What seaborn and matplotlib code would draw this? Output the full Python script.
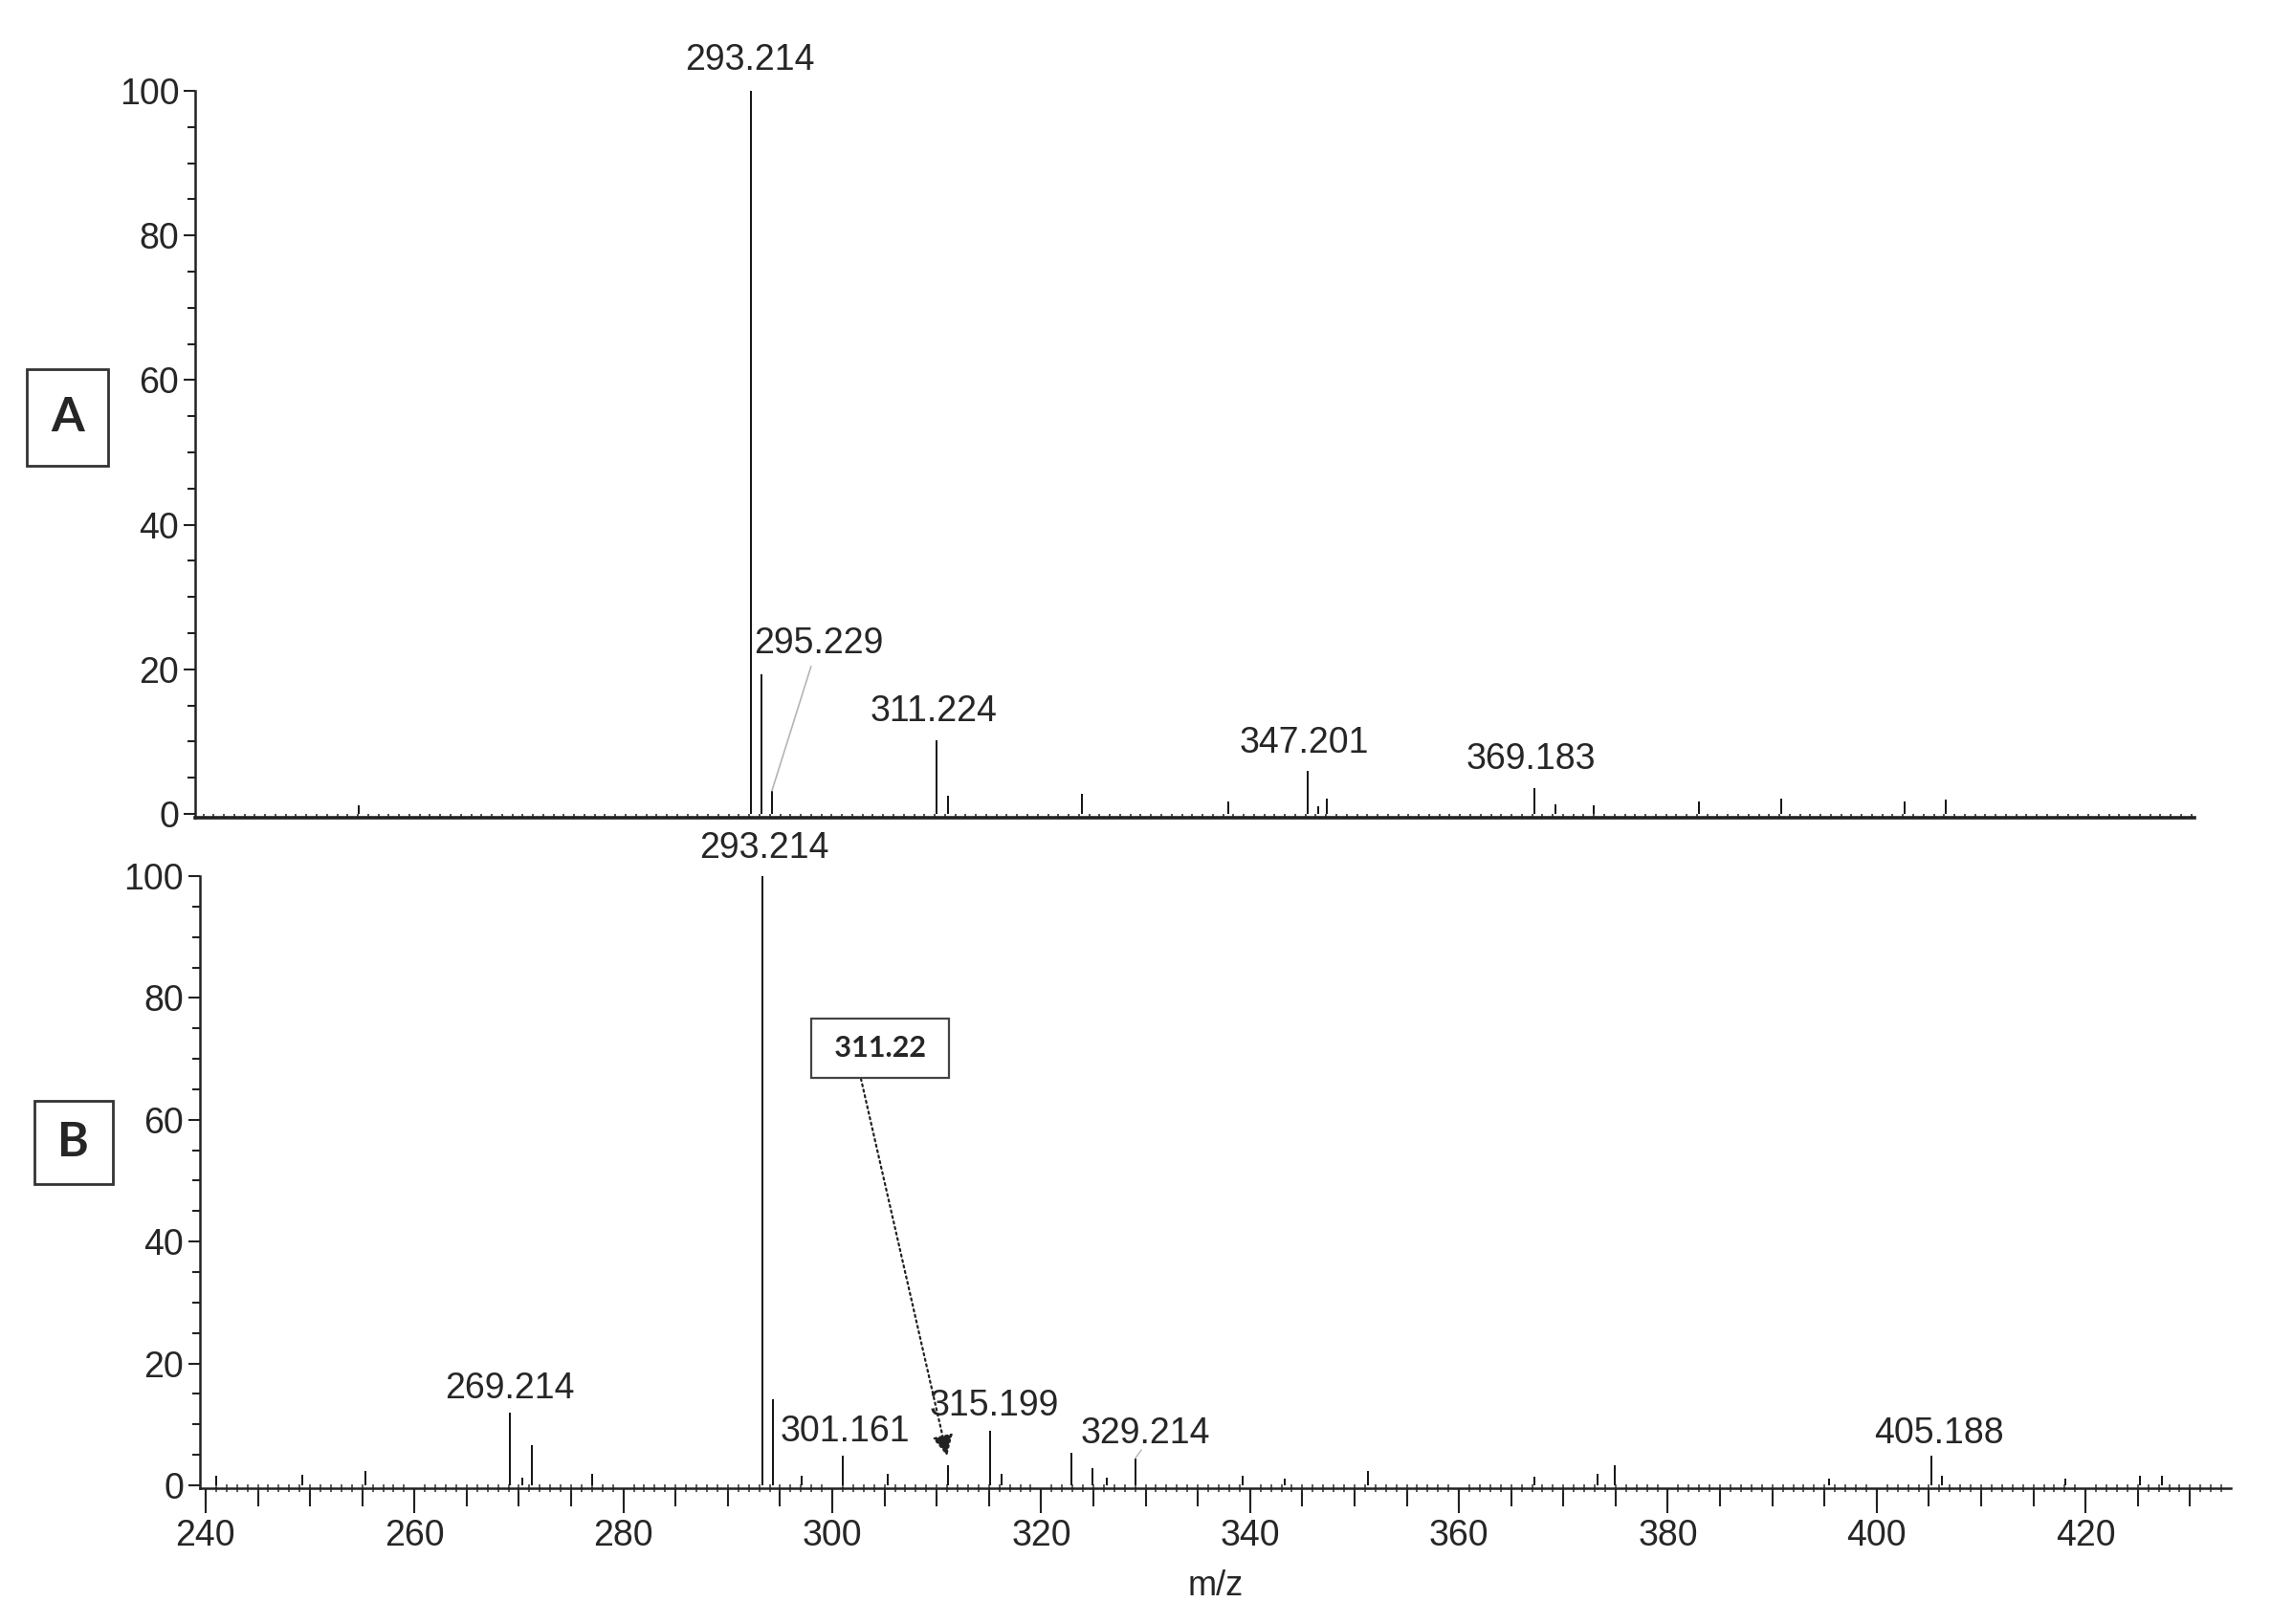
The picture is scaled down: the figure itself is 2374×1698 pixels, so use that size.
import numpy as np
import pandas as pd
import matplotlib
matplotlib.use("Agg")
import matplotlib.pyplot as plt
import seaborn as sns
from matplotlib.ticker import MultipleLocator, NullLocator
from matplotlib.patches import Rectangle

# spectrum A (peaks)
a_mz = [255.1, 293.2, 294.2, 295.2, 311.2, 312.3, 325.3, 339.5, 347.2, 348.2,
        349.1, 369.2, 371.3, 375.0, 385.2, 393.2, 405.2, 409.2]
a_int = [1.2, 100, 19.3, 3.2, 10.2, 2.5, 2.8, 1.7, 6.0, 1.0,
         2.1, 3.6, 1.3, 1.2, 1.7, 2.1, 1.7, 2.0]
a_labels = ["293.214", "295.229", "311.224", "347.201", "369.183"]

# spectrum B
b_mz = [241.0, 249.3, 255.3, 269.1, 270.3, 271.2, 277.0, 293.3, 294.3, 297.1,
        301.0, 305.3, 311.1, 315.1, 316.2, 322.9, 324.9, 326.3, 329.0, 339.3,
        343.3, 351.3, 367.2, 373.3, 374.9, 395.4, 405.2, 406.2, 418.1, 425.2, 427.3]
b_int = [1.5, 1.7, 2.4, 11.9, 1.3, 6.5, 1.9, 100, 14.1, 1.5,
         4.8, 1.9, 3.2, 8.9, 1.9, 5.3, 2.8, 1.3, 4.4, 1.6,
         1.0, 2.4, 1.4, 1.9, 3.2, 1.0, 4.8, 1.6, 1.0, 1.6, 1.5]
b_labels = ["293.214", "269.214", "301.161", "315.199", "329.214", "405.188"]

df_a = pd.DataFrame({"mz": a_mz, "intensity": a_int})
df_b = pd.DataFrame({"mz": b_mz, "intensity": b_int})

# label placement (data coords)
a_lab_pos = [(293.1, 104.2), (299.7, 23.6), (310.9, 14.2), (346.9, 9.8), (368.9, 7.6)]
b_lab_pos = [(293.5, 104.5), (269.1, 15.9), (301.2, 8.8), (315.5, 13.0), (330.0, 8.5), (406.0, 8.5)]

sns.set_theme(style="ticks")
plt.rcParams['font.family'] = ['Liberation Sans Narrow', 'Liberation Sans', 'DejaVu Sans']

fig = plt.figure(figsize=(23.74, 16.98), dpi=100)
ax_a = fig.add_axes([0.0859, 0.4966, 0.8804, 0.4475])
ax_b = fig.add_axes([0.0880, 0.0836, 0.8943, 0.3769])

fs = 27
for ax, df in [(ax_a, df_a), (ax_b, df_b)]:
    ax.vlines(df["mz"], 0, df["intensity"], color="#111111", lw=1.4)
    ax.set_ylim(-0.5, 100)
    ax.yaxis.set_major_locator(MultipleLocator(20))
    ax.yaxis.set_minor_locator(MultipleLocator(5))
    ax.tick_params(axis="y", which="major", length=9, width=1.5, labelsize=fs, pad=3, color="#222222")
    ax.tick_params(axis="y", which="minor", length=6, width=1.5, color="#222222")
    sns.despine(ax=ax)
    for s in ["left", "bottom"]:
        ax.spines[s].set_linewidth(1.8)
        ax.spines[s].set_color("#222222")

# panel A x axis: no labels, small inward ticks
ax_a.set_xlim(239.2, 433.3)
ax_a.xaxis.set_major_locator(NullLocator())
ax_a.xaxis.set_minor_locator(MultipleLocator(1))
ax_a.tick_params(axis="x", which="minor", direction="in", length=3, width=1.2, color="#333333")
ax_a.spines["bottom"].set_linewidth(2.6)

# panel B x axis
ax_b.set_xlim(239.45, 433.9)
ax_b.xaxis.set_major_locator(MultipleLocator(20))
ax_b.xaxis.set_minor_locator(MultipleLocator(1))
ax_b.tick_params(axis="x", which="major", length=19, width=1.5, labelsize=fs, pad=4, color="#222222")
ax_b.tick_params(axis="x", which="minor", direction="inout", length=6, width=1.1, color="#333333")
sec = ax_b.secondary_xaxis("bottom")
sec.xaxis.set_major_locator(MultipleLocator(5))
sec.tick_params(axis="x", length=14, width=1.5, labelbottom=False, color="#222222")
sec.spines["bottom"].set_visible(False)
ax_b.set_xlabel("m/z", fontsize=26, labelpad=12)

# peak labels
for txt, (x, y) in zip(a_labels, a_lab_pos):
    ax_a.text(x, y, txt, ha="center", va="center", fontsize=fs, clip_on=False)
for txt, (x, y) in zip(b_labels, b_lab_pos):
    ax_b.text(x, y, txt, ha="center", va="center", fontsize=fs, clip_on=False)

# leader lines
ax_a.plot([299.0, 295.2], [20.4, 3.2], color="#b5b5b5", lw=1.2)
ax_b.plot([329.6, 329.0], [5.8, 4.4], color="#b5b5b5", lw=1.0)

# boxed 311.22 with dotted arrow
ax_b.annotate(" 311.22 ", xy=(311.0, 4.8), xytext=(304.6, 71.7),
              ha="center", va="center", fontsize=22, fontweight="bold",
              family=["Lato", "DejaVu Sans"],
              bbox=dict(boxstyle="square,pad=0.55", fc="white", ec="#444444", lw=1.6),
              arrowprops=dict(arrowstyle="-|>,head_length=0.6,head_width=0.3",
                              linestyle=":", color="#222222", lw=1.6,
                              relpos=(0.28, 0.0), shrinkA=0, shrinkB=0))

# panel letters
for lab, (x0, y0, w, h), (tx, ty) in [("A", (0.0118, 0.7132, 0.0358, 0.0595), (0.0297, 0.7429)),
                                      ("B", (0.0152, 0.2709, 0.0345, 0.0512), (0.0324, 0.2965))]:
    fig.add_artist(Rectangle((x0, y0), w, h, transform=fig.transFigure,
                             fill=False, ec="#333333", lw=2))
    fig.text(tx, ty, lab, ha="center", va="center", fontsize=36, fontweight="bold",
             family=["Lato", "DejaVu Sans"])

fig.savefig("out.png", dpi=100)
